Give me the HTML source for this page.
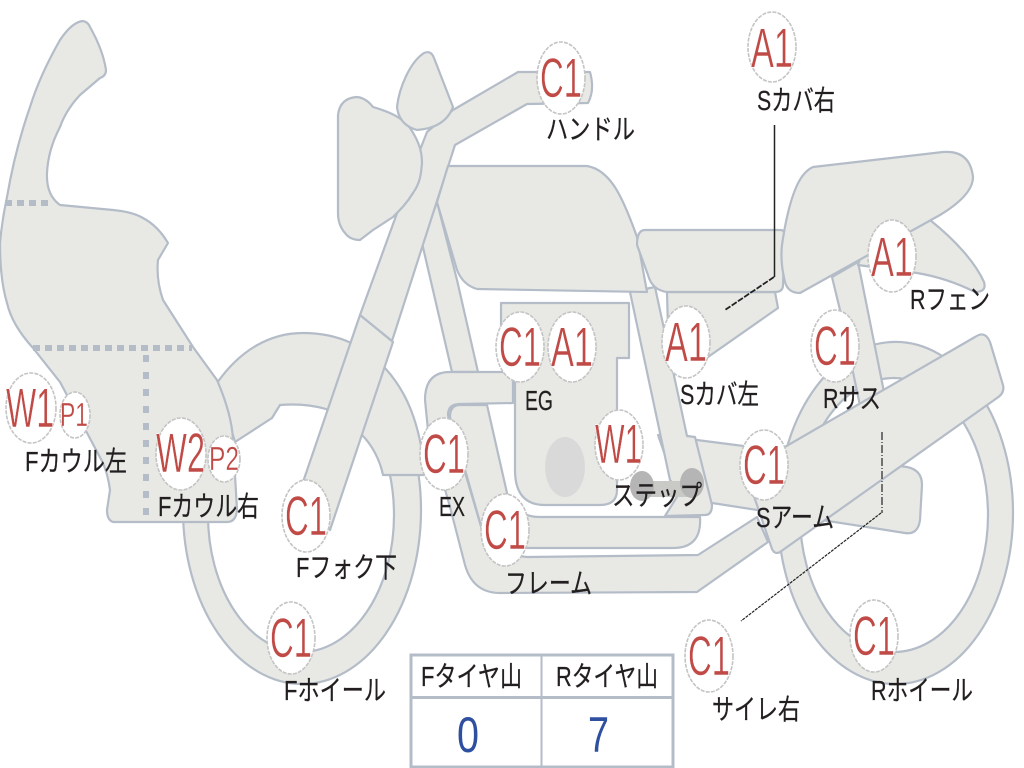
<!DOCTYPE html>
<html><head><meta charset="utf-8"><style>
html,body{margin:0;padding:0;background:#fff}
svg{display:block}
.s path{fill:#e8e9e5;stroke:#b4bcc8;stroke-width:2.2;stroke-linejoin:round}
.b ellipse{fill:#fff;stroke:#c4c4c4;stroke-width:1.6;stroke-dasharray:4 1.2}
.b text{font-family:"Liberation Sans",sans-serif;font-size:56px;fill:#c04a46;stroke:#fff;stroke-width:.5}
.b text.p{font-size:33px;stroke-width:.3}
.l text{font-family:"Liberation Sans","Noto Sans CJK JP",sans-serif;font-size:28px;fill:#231f20;stroke:#231f20;stroke-width:.25}
</style></head><body>
<svg width="1024" height="768" viewBox="0 0 1024 768" xmlns="http://www.w3.org/2000/svg">
<defs><clipPath id="fw"><rect x="0" y="474" width="1024" height="294"/></clipPath></defs>
<g class="s">
<path clip-path="url(#fw)" fill-rule="evenodd" d="M183 510A119 174 0 1 1 421 510A119 174 0 1 1 183 510ZM208 515A93 137 0 1 0 394 515A93 137 0 1 0 208 515Z"/>
<path fill-rule="evenodd" d="M778 513A117.5 171 0 1 1 1013 513A117.5 171 0 1 1 778 513ZM800 515A94 137 0 1 0 988 515A94 137 0 1 0 800 515Z"/>
<path d="M217 383C240 350 270 333 303 333C340 333 365 347 385 368C405 390 420 420 425 475H383C380 460 372 445 362 435L326 409Q305 403 280 405L272 418L235 442Z"/>
<path d="M832 277L858 262L885 397L862 415L840 310Z"/>
<path d="M930 220C955 240 975 262 984 282Q987 292 975 292C955 282 935 276 917 273L858 265L870 230Z"/>
<path d="M667 292H775L778 308L708 357L668 330Z"/>
<path d="M658 435L790 452L907 467Q922 470 922 485L920 520Q918 535 905 533L680 498Z"/>
<path d="M501 303H629V358H617V490Q617 505 600 505H545Q515 505 515 470V358H501Z"/>
<ellipse cx="565" cy="467" rx="20" ry="30" fill="#d9d9da"/>
<path d="M437 202L422 243L452 372H478L457 280Z"/>
<path d="M513 372L450 372Q425 372 425 400L428 430L450 507L465 565Q473 593 500 593L697 592L768 542L757 517L698 555L528 557Q490 555 483 533L448 415Q448 404 460 404L513 403Z"/>
<path d="M460 405L487 405L507 493Q515 517 540 517L700 517Q702 548 673 548L530 548Q495 548 483 533L450 417Q450 405 460 405Z"/>
<path d="M630 292L655 287L687 436L695 437L712 505Q712 515 705 515L665 516L680 492L670 480Z"/>
<path d="M745 470L975 337Q985 330 990 342L1003 385Q1005 393 997 398L780 552Q775 555 772 549Z"/>
<path d="M360 315L393 342L330 530L302 485Z"/>
<path d="M427 132L420 150L360 315L392 341L455 145L527 104L588 103Q595 90 590 72L518 72L453 110Z"/>
<path d="M357 97Q366 98 373 107C390 112 403 118 410 128C418 140 422 150 422 163C421 175 420 183 413 193C407 203 400 210 393 217L373 230L360 240Q350 240 345 233Q338 225 338 213V115Q340 98 357 97Z"/>
<path d="M424 53Q431 50 434 58L453 107Q445 128 417 130Q399 125 397 107C399 88 410 62 424 53Z"/>
<path d="M448 166H587C610 170 622 195 637 237L647 292L477 289Q463 285 457 270L437 202Z"/>
<path d="M645 230H780Q785 230 785 235L783 285Q783 292 775 292H667Q652 290 648 275L637 245Q637 230 645 230Z"/>
<path d="M813 167L943 152Q970 150 973 177Q973 195 940 215L800 293Q788 293 785 282Q780 262 782 245Q787 210 795 190Q802 172 813 167Z"/>
<path d="M83 21Q88 22 90 27Q103 50 106 70Q106 76 100 78L80 95Q66 110 60 127Q48 150 47 173Q46 195 60 205L113 210Q133 212 143 218Q158 226 168 243L158 260Q156 280 163 300L193 347L217 380Q232 415 233 440L237 510Q236 522 227 522H113Q107 520 107 510L110 490Q108 475 103 463L60 382L33 348Q12 325 7 303Q0 280 0 243Q2 220 7 197Q15 150 30 107Q40 75 60 40Q72 22 83 21Z"/>
</g>
<path d="M5 203H50M33 348H192" stroke="#b4bcc8" stroke-width="6" stroke-dasharray="7 5" fill="none"/>
<path d="M146 355V515" stroke="#b4bcc8" stroke-width="6" stroke-dasharray="7 10" fill="none"/>
<rect x="642" y="481" width="50" height="16" fill="#c9c9c5"/>
<ellipse cx="642" cy="486" rx="12" ry="15" fill="#b5b5b5"/>
<ellipse cx="692" cy="483" rx="12" ry="15" fill="#b5b5b5"/>
<path d="M774.5 125V277" stroke="#222" stroke-width="1.5" fill="none"/>
<path d="M774 277L725 310" stroke="#222" stroke-width="1.8" stroke-dasharray="6 1.5" fill="none"/>
<path d="M882 432V513" stroke="#222" stroke-width="1.2" stroke-dasharray="8 2 1 2" fill="none"/>
<path d="M881 513L741 621" stroke="#222" stroke-width="1.2" stroke-dasharray="3 1" fill="none"/>
<g class="b">
<ellipse cx="772" cy="47" rx="24" ry="35"/><text x="751" y="67" textLength="42" lengthAdjust="spacingAndGlyphs">A1</text>
<ellipse cx="561" cy="78" rx="24" ry="36"/><text x="540" y="97" textLength="42" lengthAdjust="spacingAndGlyphs">C1</text>
<ellipse cx="892" cy="256" rx="24" ry="36"/><text x="871" y="276" textLength="42" lengthAdjust="spacingAndGlyphs">A1</text>
<ellipse cx="520" cy="347" rx="24" ry="35"/><text x="499" y="366" textLength="42" lengthAdjust="spacingAndGlyphs">C1</text>
<ellipse cx="572" cy="347" rx="24" ry="35"/><text x="551" y="366" textLength="42" lengthAdjust="spacingAndGlyphs">A1</text>
<ellipse cx="686" cy="342" rx="24" ry="36"/><text x="665" y="361" textLength="42" lengthAdjust="spacingAndGlyphs">A1</text>
<ellipse cx="835" cy="346" rx="24" ry="36"/><text x="814" y="365" textLength="42" lengthAdjust="spacingAndGlyphs">C1</text>
<ellipse cx="31" cy="408" rx="25" ry="35"/><text x="6" y="427" textLength="48" lengthAdjust="spacingAndGlyphs">W1</text>
<ellipse cx="75" cy="415" rx="15" ry="23"/><text class="p" x="60" y="426" textLength="28" lengthAdjust="spacingAndGlyphs">P1</text>
<ellipse cx="181" cy="454" rx="25" ry="36"/><text x="156" y="472" textLength="49" lengthAdjust="spacingAndGlyphs">W2</text>
<ellipse cx="224" cy="459" rx="16" ry="23"/><text class="p" x="209" y="470" textLength="30" lengthAdjust="spacingAndGlyphs">P2</text>
<ellipse cx="444" cy="454" rx="24" ry="36"/><text x="423" y="473" textLength="42" lengthAdjust="spacingAndGlyphs">C1</text>
<ellipse cx="619" cy="445" rx="24" ry="35"/><text x="595" y="463" textLength="47" lengthAdjust="spacingAndGlyphs">W1</text>
<ellipse cx="764" cy="465" rx="24" ry="35"/><text x="743" y="484" textLength="42" lengthAdjust="spacingAndGlyphs">C1</text>
<ellipse cx="306" cy="516" rx="24" ry="36"/><text x="285" y="535" textLength="42" lengthAdjust="spacingAndGlyphs">C1</text>
<ellipse cx="505" cy="530" rx="24" ry="36"/><text x="484" y="549" textLength="42" lengthAdjust="spacingAndGlyphs">C1</text>
<ellipse cx="291" cy="638" rx="24" ry="36"/><text x="270" y="657" textLength="42" lengthAdjust="spacingAndGlyphs">C1</text>
<ellipse cx="709" cy="656" rx="24" ry="36"/><text x="688" y="675" textLength="42" lengthAdjust="spacingAndGlyphs">C1</text>
<ellipse cx="874" cy="636" rx="24" ry="36"/><text x="853" y="655" textLength="42" lengthAdjust="spacingAndGlyphs">C1</text>
</g>
<g class="l">
<text x="757" y="110" textLength="78" lengthAdjust="spacingAndGlyphs">Sカバ右</text>
<text x="546" y="139" textLength="89" lengthAdjust="spacingAndGlyphs">ハンドル</text>
<text x="910" y="309" textLength="80" lengthAdjust="spacingAndGlyphs">Rフェン</text>
<text x="823" y="408" textLength="58" lengthAdjust="spacingAndGlyphs">Rサス</text>
<text x="680" y="404" textLength="79" lengthAdjust="spacingAndGlyphs">Sカバ左</text>
<text x="525" y="410" textLength="28" lengthAdjust="spacingAndGlyphs">EG</text>
<text x="25" y="471" textLength="102" lengthAdjust="spacingAndGlyphs">Fカウル左</text>
<text x="158" y="516" textLength="101" lengthAdjust="spacingAndGlyphs">Fカウル右</text>
<text x="439" y="516" textLength="26" lengthAdjust="spacingAndGlyphs">EX</text>
<text x="612" y="505" textLength="90" lengthAdjust="spacingAndGlyphs">ステップ</text>
<text x="756" y="527" textLength="78" lengthAdjust="spacingAndGlyphs">Sアーム</text>
<text x="296" y="577" textLength="101" lengthAdjust="spacingAndGlyphs">Fフォク下</text>
<text x="505" y="593" textLength="87" lengthAdjust="spacingAndGlyphs">フレーム</text>
<text x="284" y="700" textLength="102" lengthAdjust="spacingAndGlyphs">Fホイール</text>
<text x="712" y="719" textLength="88" lengthAdjust="spacingAndGlyphs">サイレ右</text>
<text x="871" y="700" textLength="102" lengthAdjust="spacingAndGlyphs">Rホイール</text>
<text x="421" y="686" textLength="101" lengthAdjust="spacingAndGlyphs">Fタイヤ山</text>
<text x="556" y="686" textLength="102" lengthAdjust="spacingAndGlyphs">Rタイヤ山</text>
</g>
<rect x="411" y="655" width="262" height="112" fill="none" stroke="#b4bcc8" stroke-width="3"/>
<path d="M411 697.5H673" stroke="#b4bcc8" stroke-width="3"/>
<path d="M541.5 655V767" stroke="#b4bcc8" stroke-width="2"/>
<text x="457" y="752" font-family="Liberation Sans,sans-serif" font-size="50" fill="#2f50a0" textLength="22" lengthAdjust="spacingAndGlyphs">0</text>
<text x="588" y="752" font-family="Liberation Sans,sans-serif" font-size="50" fill="#2f50a0" textLength="21" lengthAdjust="spacingAndGlyphs">7</text>
</svg>
</body></html>
